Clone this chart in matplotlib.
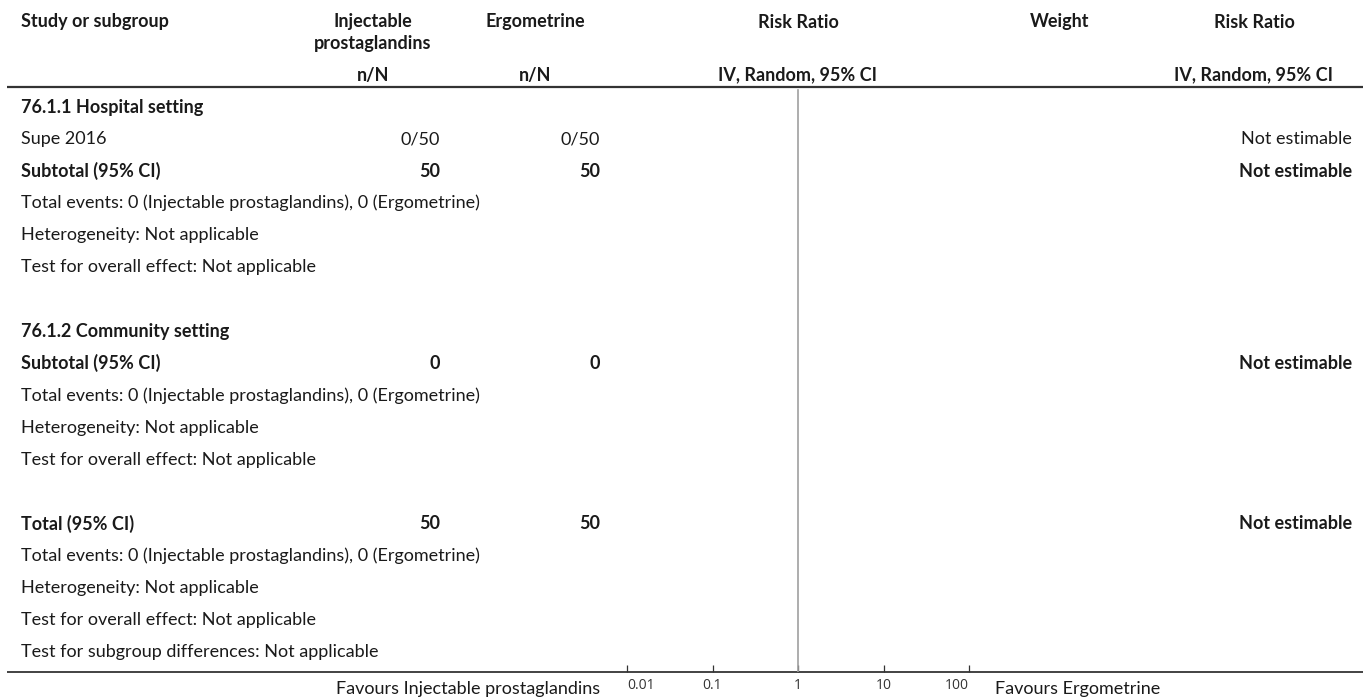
import matplotlib
matplotlib.use("Agg")
from matplotlib import pyplot as plt

plt.rcParams['font.family'] = ['Lato', 'DejaVu Sans']

# table content, one entry per row ('' = blank spacer row)
row_labels = ['76.1.1 Hospital setting', 'Supe 2016', 'Subtotal (95% CI)',
              'Total events: 0 (Injectable prostaglandins), 0 (Ergometrine)',
              'Heterogeneity: Not applicable', 'Test for overall effect: Not applicable',
              '',
              '76.1.2 Community setting', 'Subtotal (95% CI)',
              'Total events: 0 (Injectable prostaglandins), 0 (Ergometrine)',
              'Heterogeneity: Not applicable', 'Test for overall effect: Not applicable',
              '',
              'Total (95% CI)',
              'Total events: 0 (Injectable prostaglandins), 0 (Ergometrine)',
              'Heterogeneity: Not applicable', 'Test for overall effect: Not applicable',
              'Test for subgroup differences: Not applicable']
row_bold = [True, False, True, False, False, False, False,
            True, True, False, False, False, False,
            True, False, False, False, False]
inj_values = ['', '0/50', '50', '', '', '', '', '', '0', '', '', '', '', '50', '', '', '', '']
ergo_values = ['', '0/50', '50', '', '', '', '', '', '0', '', '', '', '', '50', '', '', '', '']
rr_text = ['', 'Not estimable', 'Not estimable', '', '', '', '', '', 'Not estimable', '', '', '', '',
           'Not estimable', '', '', '', '']

col_headers = ['Study or subgroup', 'Injectable', 'prostaglandins', 'Ergometrine',
               'Risk Ratio', 'Weight', 'Risk Ratio']
sub_headers = ['n/N', 'n/N', 'IV, Random, 95% CI', 'IV, Random, 95% CI']
rr_ticks = [0.01, 0.1, 1, 10, 100]
rr_ticklabels = ['0.01', '0.1', '1', '10', '100']
favours_left = 'Favours Injectable prostaglandins'
favours_right = 'Favours Ergometrine'

W, H = 1370, 700
fig = plt.figure(figsize=(W / 100, H / 100), dpi=100)

# background axes in pixel coordinates for the table text
bg = fig.add_axes([0, 0, 1, 1])
bg.set_xlim(0, W)
bg.set_ylim(H, 0)
bg.axis('off')

fs = 13
txt = '#1a1a1a'
hd = dict(fontsize=fs, fontweight='bold', color=txt, va='center')
xl = 21
# column centres (headers) and right edges (values)
c_inj, c_erg, c_rr, c_w, c_rr2 = 373, 535, 798, 1060, 1254
r_inj, r_erg, r_rr2 = 440, 600, 1352

# headers
bg.text(xl, 22, col_headers[0], ha='left', **hd)
bg.text(c_inj, 22, col_headers[1], ha='center', **hd)
bg.text(c_inj, 43, col_headers[2], ha='center', **hd)
bg.text(c_erg, 22, col_headers[3], ha='center', **hd)
bg.text(c_rr, 22, col_headers[4], ha='center', **hd)
bg.text(c_w, 22, col_headers[5], ha='center', **hd)
bg.text(c_rr2, 22, col_headers[6], ha='center', **hd)

bg.text(c_inj, 75, sub_headers[0], ha='center', **hd)
bg.text(c_erg, 75, sub_headers[1], ha='center', **hd)
bg.text(c_rr, 75, sub_headers[2], ha='center', **hd)
bg.text(c_rr2, 75, sub_headers[3], ha='center', **hd)

bg.plot([7, W - 7], [87, 87], color='#333333', lw=1.6, solid_capstyle='butt')
bg.plot([7, W - 7], [672, 672], color='#222222', lw=1.2, solid_capstyle='butt')

y0, dy = 107, 32.05
for i, lab in enumerate(row_labels):
    y = y0 + i * dy
    w = 'bold' if row_bold[i] else 'normal'
    bg.text(xl, y, lab, fontsize=fs, fontweight=w, color=txt, va='center', ha='left')
    if inj_values[i]:
        bg.text(r_inj, y, inj_values[i], fontsize=fs, fontweight=w, color=txt, va='center', ha='right')
    if ergo_values[i]:
        bg.text(r_erg, y, ergo_values[i], fontsize=fs, fontweight=w, color=txt, va='center', ha='right')
    if rr_text[i]:
        bg.text(r_rr2, y, rr_text[i], fontsize=fs, fontweight=w, color=txt, va='center', ha='right')

# forest plot axes: 0.01 at x=627, 100 at x=969; from header line to bottom line
fx0, fx1, fy0, fy1 = 627, 969, 88, 672
ax = fig.add_axes([fx0 / W, 1 - fy1 / H, (fx1 - fx0) / W, (fy1 - fy0) / H])
ax.set_xscale('log')
ax.set_xlim(rr_ticks[0], rr_ticks[-1])
ax.set_ylim(0, 1)
ax.patch.set_alpha(0)
for s in ax.spines.values():
    s.set_visible(False)
ax.axvline(1, ymin=0, ymax=0.997, color='#a0a0a0', lw=1.2)
ax.set_yticks([])
ax.set_xticks(rr_ticks)
ax.set_xticklabels(rr_ticklabels, fontfamily='Open Sans', fontsize=10, color='#333333')
ax.xaxis.set_minor_locator(matplotlib.ticker.NullLocator())
ax.tick_params(axis='x', direction='in', length=5, width=0.9, color='#333333', pad=4)
# end labels are kept inside the scale
tl = ax.get_xticklabels()
tl[0].set_horizontalalignment('left')
tl[-1].set_horizontalalignment('right')

bg.text(600, 689, favours_left, fontsize=fs, color=txt, va='center', ha='right')
bg.text(995, 689, favours_right, fontsize=fs, color=txt, va='center', ha='left')

fig.savefig('out.png', dpi=100)
